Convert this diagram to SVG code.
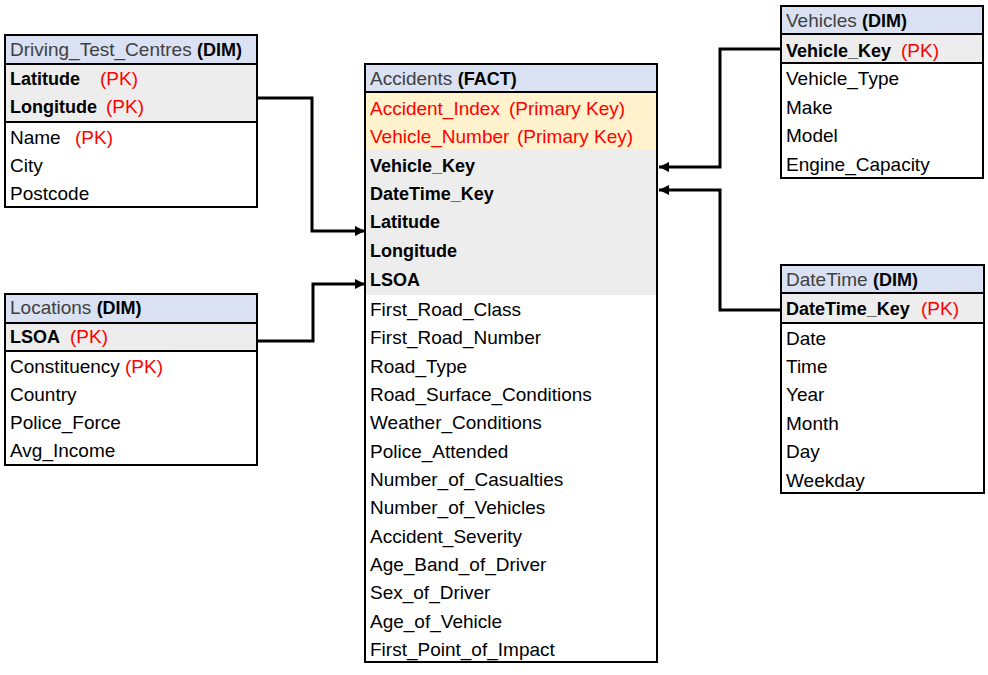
<svg xmlns="http://www.w3.org/2000/svg" width="988" height="675" viewBox="0 0 988 675">
<style>
text{font-family:"Liberation Sans",Arial,sans-serif;font-size:19px;fill:#000}
.hd{fill:#D9E1F2}
.pk{fill:#EDEDED}
.yl{fill:#FFF2CC}
.box{fill:none;stroke:#000;stroke-width:2}
.sep{stroke:#000;stroke-width:2}
.ttl{fill:#404040}
.b{font-weight:bold;font-size:18px}
.r{fill:#FF0000}
.conn{fill:none;stroke:#000;stroke-width:3}
</style>
<defs>
<marker id="arr" viewBox="0 0 10 10" refX="10" refY="5" markerWidth="10" markerHeight="10" markerUnits="userSpaceOnUse" orient="auto">
<path d="M0,0 L10,5 L0,10 z" fill="#000"/>
</marker>
</defs>
<rect width="988" height="675" fill="#fff"/>

<g id="driving_test_centres">
<rect x="5" y="35" width="252" height="29" class="hd"/>
<rect x="5" y="64" width="252" height="58" class="pk"/>
<rect x="5" y="35" width="252" height="172" class="box"/>
<line x1="5" y1="64" x2="257" y2="64" class="sep"/>
<line x1="5" y1="122" x2="257" y2="122" class="sep"/>
<text x="10" y="56"><tspan class="ttl">Driving_Test_Centres </tspan><tspan class="b">(DIM)</tspan></text>
<text x="10" y="85"><tspan class="b">Latitude</tspan><tspan x="100" class="r">(PK)</tspan></text>
<text x="10" y="113"><tspan class="b">Longitude</tspan><tspan x="106" class="r">(PK)</tspan></text>
<text x="10" y="144">Name<tspan x="75" class="r">(PK)</tspan></text>
<text x="10" y="172">City</text>
<text x="10" y="200">Postcode</text>
</g>

<g id="locations">
<rect x="5" y="294" width="252" height="29" class="hd"/>
<rect x="5" y="323" width="252" height="28" class="pk"/>
<rect x="5" y="294" width="252" height="171" class="box"/>
<line x1="5" y1="323" x2="257" y2="323" class="sep"/>
<line x1="5" y1="351" x2="257" y2="351" class="sep"/>
<text x="10" y="314"><tspan class="ttl">Locations </tspan><tspan class="b">(DIM)</tspan></text>
<text x="10" y="343"><tspan class="b">LSOA</tspan><tspan x="70" class="r">(PK)</tspan></text>
<text x="10" y="373">Constituency<tspan x="125" class="r">(PK)</tspan></text>
<text x="10" y="401">Country</text>
<text x="10" y="429">Police_Force</text>
<text x="10" y="457">Avg_Income</text>
</g>

<g id="accidents">
<rect x="365" y="64" width="292" height="28" class="hd"/>
<rect x="365" y="92" width="292" height="57" class="yl"/>
<rect x="365" y="149" width="292" height="146" class="pk"/>
<rect x="365" y="64" width="292" height="598" class="box"/>
<line x1="365" y1="92" x2="657" y2="92" class="sep"/>
<text x="370" y="85"><tspan class="ttl">Accidents </tspan><tspan class="b">(FACT)</tspan></text>
<text x="370" y="115" class="r">Accident_Index<tspan x="509">(Primary Key)</tspan></text>
<text x="370" y="143" class="r">Vehicle_Number<tspan x="517">(Primary Key)</tspan></text>
<text x="370" y="172" class="b">Vehicle_Key</text>
<text x="370" y="200" class="b">DateTime_Key</text>
<text x="370" y="228" class="b">Latitude</text>
<text x="370" y="257" class="b">Longitude</text>
<text x="370" y="286" class="b">LSOA</text>
<text x="370" y="316">First_Road_Class</text>
<text x="370" y="344">First_Road_Number</text>
<text x="370" y="373">Road_Type</text>
<text x="370" y="401">Road_Surface_Conditions</text>
<text x="370" y="429">Weather_Conditions</text>
<text x="370" y="458">Police_Attended</text>
<text x="370" y="486">Number_of_Casualties</text>
<text x="370" y="514">Number_of_Vehicles</text>
<text x="370" y="543">Accident_Severity</text>
<text x="370" y="571">Age_Band_of_Driver</text>
<text x="370" y="599">Sex_of_Driver</text>
<text x="370" y="628">Age_of_Vehicle</text>
<text x="370" y="656">First_Point_of_Impact</text>
</g>

<g id="vehicles">
<rect x="781" y="6" width="202" height="28" class="hd"/>
<rect x="781" y="34" width="202" height="29" class="pk"/>
<rect x="781" y="6" width="202" height="172" class="box"/>
<line x1="781" y1="34" x2="983" y2="34" class="sep"/>
<line x1="781" y1="63" x2="983" y2="63" class="sep"/>
<text x="786" y="27"><tspan class="ttl">Vehicles </tspan><tspan class="b">(DIM)</tspan></text>
<text x="786" y="57"><tspan class="b">Vehicle_Key</tspan><tspan x="901" class="r">(PK)</tspan></text>
<text x="786" y="85">Vehicle_Type</text>
<text x="786" y="114">Make</text>
<text x="786" y="142">Model</text>
<text x="786" y="171">Engine_Capacity</text>
</g>

<g id="datetime">
<rect x="781" y="265" width="203" height="28" class="hd"/>
<rect x="781" y="293" width="203" height="30" class="pk"/>
<rect x="781" y="265" width="203" height="228" class="box"/>
<line x1="781" y1="293" x2="984" y2="293" class="sep"/>
<line x1="781" y1="323" x2="984" y2="323" class="sep"/>
<text x="786" y="286"><tspan class="ttl">DateTime </tspan><tspan class="b">(DIM)</tspan></text>
<text x="786" y="315"><tspan class="b">DateTime_Key</tspan><tspan x="921" class="r">(PK)</tspan></text>
<text x="786" y="345">Date</text>
<text x="786" y="373">Time</text>
<text x="786" y="401">Year</text>
<text x="786" y="430">Month</text>
<text x="786" y="458">Day</text>
<text x="786" y="487">Weekday</text>
</g>

<g id="connectors">
<path d="M258,98 H312 V231 H365" class="conn" marker-end="url(#arr)"/>
<path d="M258,341 H313 V284 H365" class="conn" marker-end="url(#arr)"/>
<path d="M780,49 H720 V167 H659" class="conn" marker-end="url(#arr)"/>
<path d="M780,310 H720 V190 H659" class="conn" marker-end="url(#arr)"/>
</g>
</svg>
